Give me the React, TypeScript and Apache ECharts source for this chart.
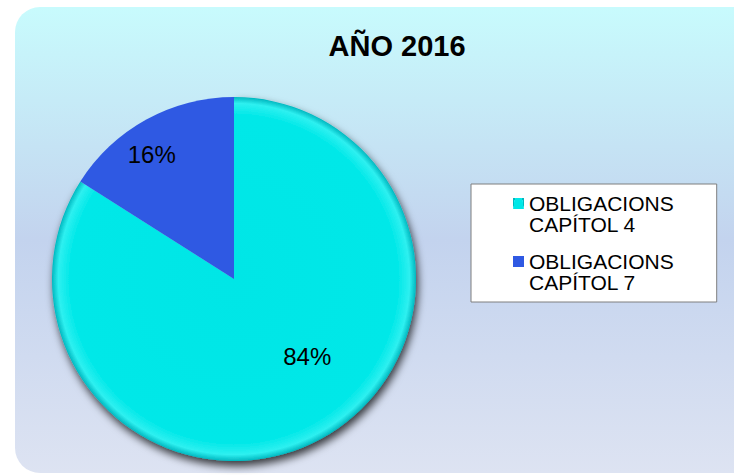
import React, { useEffect, useRef } from "react";
import * as echarts from "echarts";

const titleText = "AÑO 2016";
const categories = ["OBLIGACIONS\nCAPÍTOL 4", "OBLIGACIONS\nCAPÍTOL 7"];
const values = [84, 16];
const colors = ["#00E6E6", "#2F59E3"];
const labelOffsets = [
  [28, -5],
  [-37, -42],
];

export default function App() {
  const ref = useRef<HTMLDivElement>(null);
  useEffect(() => {
    if (!ref.current) return;
    const chart = echarts.init(ref.current, undefined, { renderer: "svg" });
    const cyanFill = new echarts.graphic.RadialGradient(0.5, 0.5, 0.5, [
      { offset: 0, color: "#00E6E6" },
      { offset: 0.9, color: "#00E8E8" },
      { offset: 0.965, color: "#2EF0F0" },
      { offset: 1, color: "#00B8C0" },
    ]);
    chart.setOption({
      animation: false,
      graphic: [
        {
          type: "rect",
          z: -10,
          silent: true,
          shape: { x: 15, y: 7, width: 760, height: 466, r: 25 },
          style: {
            fill: new echarts.graphic.LinearGradient(0, 0, 0, 1, [
              { offset: 0, color: "#C8FBFD" },
              { offset: 0.5, color: "#C3D3EE" },
              { offset: 1, color: "#DDE3F2" },
            ]),
          },
        },
      ],
      title: {
        text: titleText,
        left: 397,
        top: 31,
        padding: 0,
        textAlign: "center",
        textStyle: {
          fontFamily: "Liberation Sans, Arial, sans-serif",
          fontWeight: "bold",
          fontSize: 29,
          color: "#000",
        },
      },
      legend: {
        orient: "vertical",
        left: 471,
        top: 184,
        padding: [9, 43, 9, 42],
        itemGap: 16,
        itemWidth: 11,
        itemHeight: 42,
        icon: "path://M0,0L0.01,0M0,5h11v11h-11zM0,42L0.01,42",
        backgroundColor: "#FFFFFF",
        borderColor: "#7F7F7F",
        borderWidth: 1,
        selectedMode: false,
        textStyle: {
          fontFamily: "Liberation Sans, Arial, sans-serif",
          fontSize: 21,
          lineHeight: 21,
          color: "#000",
        },
        data: categories,
      },
      series: [
        {
          type: "pie",
          center: [234, 279],
          radius: 182,
          startAngle: 90,
          clockwise: true,
          silent: true,
          label: {
            show: true,
            position: "inside",
            formatter: (p: any) => Math.round(p.percent) + "%",
            fontFamily: "Liberation Sans, Arial, sans-serif",
            fontSize: 24,
            color: "#000",
          },
          labelLine: { show: false },
          labelLayout: (p: any) => ({
            dx: labelOffsets[p.dataIndex][0],
            dy: labelOffsets[p.dataIndex][1],
          }),
          data: categories.map((name, i) => ({
            name,
            value: values[i],
            itemStyle:
              i === 0
                ? {
                    color: cyanFill,
                    borderWidth: 0,
                    shadowBlur: 8,
                    shadowOffsetX: 2,
                    shadowOffsetY: 5,
                    shadowColor: "rgba(0,0,0,0.75)",
                  }
                : { color: colors[i], borderWidth: 0 },
          })),
        },
      ],
    });
    return () => chart.dispose();
  }, []);
  return (
    <div
      ref={ref}
      style={{ position: "fixed", left: 0, top: 0, width: 734, height: 475, background: "#fff" }}
    />
  );
}
